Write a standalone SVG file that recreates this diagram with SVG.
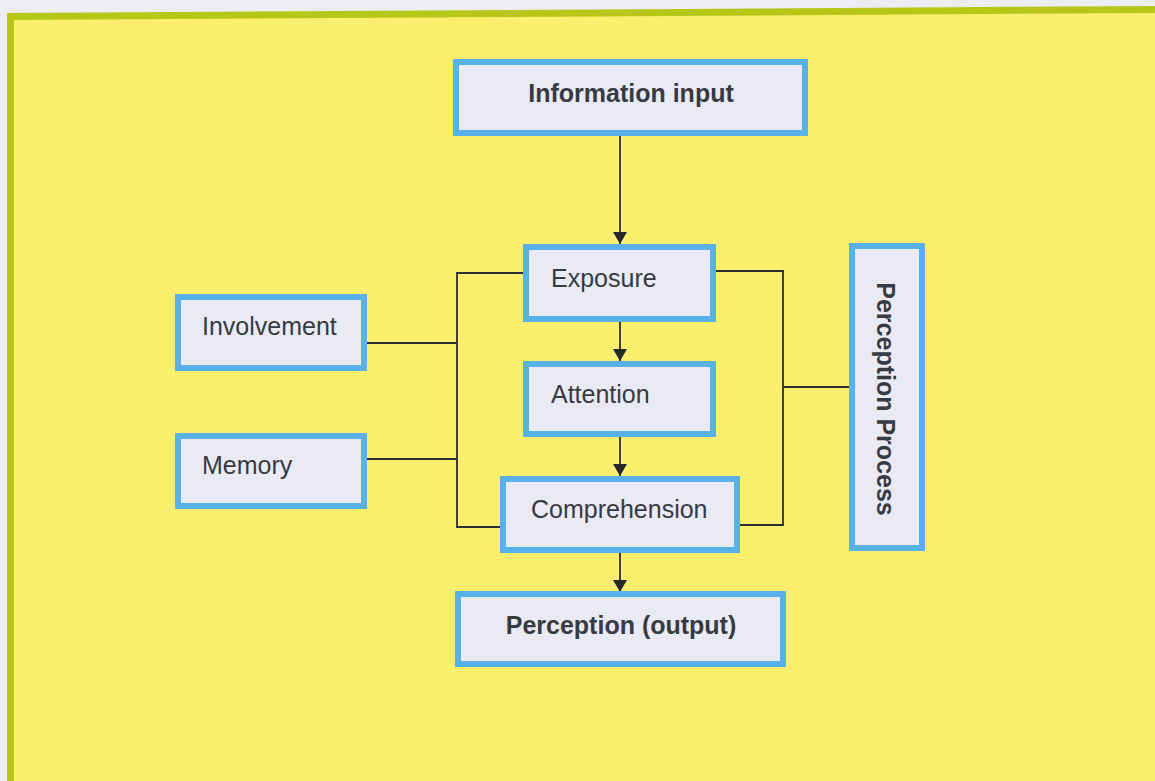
<svg xmlns="http://www.w3.org/2000/svg" width="1155" height="781" viewBox="0 0 1155 781">
  <defs>
    <marker id="arrow" viewBox="0 0 12 14" refX="12" refY="7" markerWidth="12" markerHeight="14" markerUnits="userSpaceOnUse" orient="auto">
      <path d="M0,0 L12,7 L0,14 Z" fill="#24282b"/>
    </marker>
    <style>
      .box { fill: #e9eaf3; stroke: #58b2e9; stroke-width: 6; }
      .lbl { font-family: "Liberation Sans", Arial, sans-serif; font-size: 25px; fill: #373a42; }
      .bold { font-weight: bold; }
      .conn { fill: none; stroke: #2a2e30; stroke-width: 1.8; }
    </style>
  </defs>

  <!-- page and framed panel -->
  <rect x="0" y="0" width="1155" height="781" fill="#eceef4"/>
  <polygon points="7,13 1155,6 1155,781 7,781" fill="#b6c718"/>
  <polygon points="14,20 1155,13 1155,781 14,781" fill="#fcef6e"/>

  <!-- connectors -->
  <g id="connectors">
    <line class="conn" x1="620" y1="134" x2="620" y2="244" marker-end="url(#arrow)"/>
    <line class="conn" x1="620" y1="322" x2="620" y2="361" marker-end="url(#arrow)"/>
    <line class="conn" x1="620" y1="437" x2="620" y2="476" marker-end="url(#arrow)"/>
    <line class="conn" x1="620" y1="553" x2="620" y2="592" marker-end="url(#arrow)"/>
    <!-- left bracket: involvement and memory feed exposure..comprehension -->
    <polyline class="conn" points="524,273 457,273 457,527 501,527"/>
    <line class="conn" x1="367" y1="343" x2="457" y2="343"/>
    <line class="conn" x1="367" y1="459" x2="457" y2="459"/>
    <!-- right bracket: perception process -->
    <polyline class="conn" points="715,271 783,271 783,525 739,525"/>
    <line class="conn" x1="783" y1="387" x2="850" y2="387"/>
  </g>

  <g id="information-input">
    <rect class="box" x="456" y="62" width="349" height="71"/>
    <text class="lbl bold" x="631" y="102" text-anchor="middle">Information input</text>
  </g>

  <g id="exposure">
    <rect class="box" x="526" y="247" width="187" height="72"/>
    <text class="lbl" x="551" y="287">Exposure</text>
  </g>

  <g id="attention">
    <rect class="box" x="526" y="364" width="187" height="70"/>
    <text class="lbl" x="551" y="403">Attention</text>
  </g>

  <g id="comprehension">
    <rect class="box" x="503" y="479" width="234" height="71"/>
    <text class="lbl" x="531" y="518">Comprehension</text>
  </g>

  <g id="perception-output">
    <rect class="box" x="458" y="594" width="325" height="70"/>
    <text class="lbl bold" x="621" y="634" text-anchor="middle">Perception (output)</text>
  </g>

  <g id="involvement">
    <rect class="box" x="178" y="297" width="186" height="71"/>
    <text class="lbl" x="202" y="335">Involvement</text>
  </g>

  <g id="memory">
    <rect class="box" x="178" y="436" width="186" height="70"/>
    <text class="lbl" x="202" y="474">Memory</text>
  </g>

  <g id="perception-process">
    <rect class="box" x="852" y="246" width="70" height="302"/>
    <text class="lbl bold" text-anchor="middle" transform="translate(877,399) rotate(90)">Perception Process</text>
  </g>
</svg>
